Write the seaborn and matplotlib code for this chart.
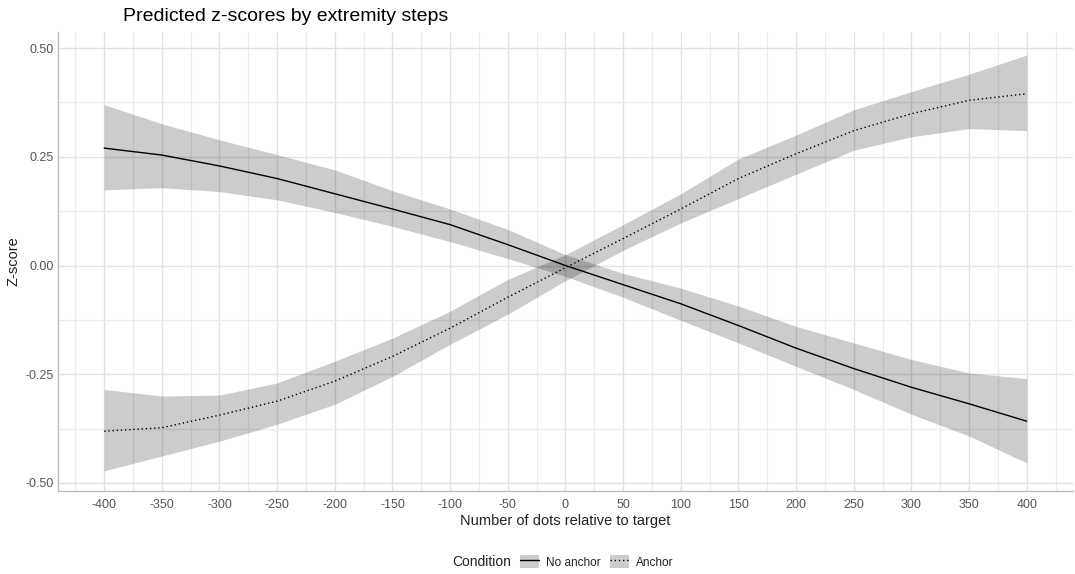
import numpy as np
import pandas as pd
import matplotlib
matplotlib.use("Agg")
import matplotlib.pyplot as plt
import seaborn as sns
from matplotlib.patches import Patch
from matplotlib.lines import Line2D
from matplotlib.ticker import MultipleLocator

# x positions (dots relative to target)
x_vals = [-400, -350, -300, -250, -200, -150, -100, -50, 0, 50, 100, 150, 200, 250, 300, 350, 400]

# No anchor condition
no_anchor_fit = [0.270, 0.254, 0.229, 0.200, 0.165, 0.130, 0.094, 0.048, 0.000, -0.044, -0.088, -0.138, -0.190, -0.237, -0.280, -0.318, -0.358]
no_anchor_lo = [0.174, 0.179, 0.170, 0.151, 0.122, 0.090, 0.055, 0.016, -0.025, -0.073, -0.126, -0.178, -0.232, -0.285, -0.342, -0.392, -0.454]
no_anchor_hi = [0.370, 0.326, 0.289, 0.255, 0.220, 0.172, 0.130, 0.083, 0.025, -0.018, -0.052, -0.093, -0.140, -0.178, -0.216, -0.247, -0.260]

# Anchor condition
anchor_fit = [-0.381, -0.373, -0.344, -0.312, -0.266, -0.209, -0.144, -0.073, -0.005, 0.062, 0.130, 0.200, 0.257, 0.310, 0.349, 0.380, 0.395]
anchor_lo = [-0.472, -0.438, -0.404, -0.365, -0.319, -0.255, -0.181, -0.112, -0.035, 0.035, 0.098, 0.154, 0.210, 0.265, 0.296, 0.315, 0.310]
anchor_hi = [-0.285, -0.300, -0.298, -0.270, -0.220, -0.167, -0.105, -0.032, 0.025, 0.094, 0.165, 0.245, 0.300, 0.358, 0.400, 0.440, 0.484]

conditions = ["No anchor", "Anchor"]

df = pd.DataFrame({
    "x": x_vals * 2,
    "z": no_anchor_fit + anchor_fit,
    "Condition": ["No anchor"] * len(x_vals) + ["Anchor"] * len(x_vals),
})

sns.set_theme(style="whitegrid")
plt.rcParams['font.family'] = ['Liberation Sans', 'DejaVu Sans']

fig = plt.figure(figsize=(10.75, 5.74), dpi=100)
ax = fig.add_axes([0.054, 0.145, 0.944, 0.80])

ax.fill_between(x_vals, no_anchor_lo, no_anchor_hi, color="black", alpha=0.2, linewidth=0)
ax.fill_between(x_vals, anchor_lo, anchor_hi, color="black", alpha=0.2, linewidth=0)

sns.lineplot(data=df, x="x", y="z", style="Condition", style_order=conditions,
             dashes={"No anchor": "", "Anchor": (1, 2)}, color="black",
             linewidth=1.0, ax=ax, legend=False)

ax.set_xlim(-440, 440)
ax.set_ylim(-0.518, 0.538)
ax.xaxis.set_major_locator(MultipleLocator(50))
ax.xaxis.set_minor_locator(MultipleLocator(25))
ax.yaxis.set_major_locator(MultipleLocator(0.25))
ax.yaxis.set_minor_locator(MultipleLocator(0.125))
ax.set_yticks([-0.5, -0.25, 0, 0.25, 0.5])
ax.set_yticklabels(["-0.50", "-0.25", "0.00", "0.25", "0.50"])
ax.set_xticks(x_vals)
ax.set_xticklabels([str(v) for v in x_vals])

ax.grid(True, which="major", color="#e2e2e2", linewidth=1.0)
ax.grid(True, which="minor", color="#ececec", linewidth=0.9)
ax.set_axisbelow(True)
ax.set_facecolor("white")
for s in ["top", "right"]:
    ax.spines[s].set_visible(False)
for s in ["left", "bottom"]:
    ax.spines[s].set_visible(True)
    ax.spines[s].set_color("#bdbdbd")
    ax.spines[s].set_linewidth(1.0)
ax.tick_params(axis="both", which="major", labelsize=9, labelcolor="#555555",
               length=3, color="#bdbdbd", pad=3)
ax.tick_params(axis="y", length=0)

ax.set_xlabel("Number of dots relative to target", fontsize=10.5, color="#222222", labelpad=2)
ax.set_ylabel("Z-score", fontsize=10.5, color="#222222", labelpad=4)

fig.text(0.114, 0.972, "Predicted z-scores by extremity steps", fontsize=14, color="black",
         va="center", ha="left")

handles = [
    (Patch(facecolor="#cccccc", edgecolor="none"), Line2D([], [], color="black", linewidth=1.0)),
    (Patch(facecolor="#cccccc", edgecolor="none"), Line2D([], [], color="black", linewidth=1.0, linestyle=(0, (1, 2)))),
]
fig.text(0.4755, 0.021, "Condition", fontsize=10, color="#222222", va="center", ha="right")
fig.legend(handles, conditions, loc="center left", bbox_to_anchor=(0.474, 0.021), ncol=2,
           frameon=False, fontsize=8.5, handlelength=1.6, handleheight=1.3,
           columnspacing=0.8, handletextpad=0.6, labelcolor="#222222")

fig.savefig("out.png", dpi=100)
